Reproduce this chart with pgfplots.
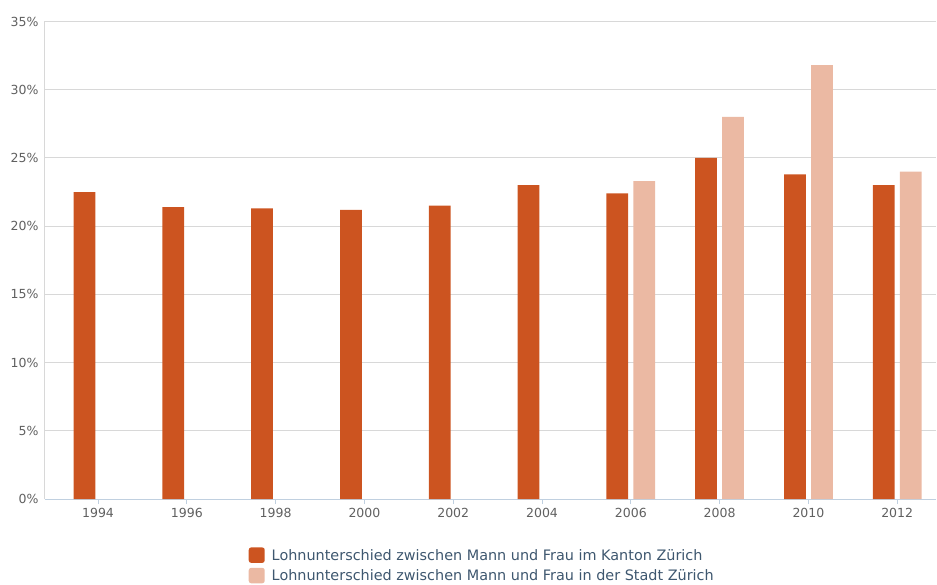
\documentclass[border=0pt]{standalone}
\usepackage{fontspec}
\setmainfont{DejaVu Sans}
\usepackage{pgfplots}
\pgfplotsset{compat=1.18}
\definecolor{dark}{HTML}{CC5420}
\definecolor{light}{HTML}{EBB9A3}
\definecolor{gridc}{HTML}{D8D8D8}
\definecolor{xaxc}{HTML}{C0D0E0}
\definecolor{ticklab}{HTML}{606060}
\definecolor{legtext}{HTML}{3E576F}
\begin{document}
\begin{tikzpicture}
\path[use as bounding box] (-45bp,-86bp) rectangle (892bp,499bp);
\begin{axis}[
  scale only axis, width=891bp, height=477.5bp,
  at={(0,0)}, anchor=south west,
  xmin=-0.597, xmax=9.437, ymin=0, ymax=35,
  ybar, bar width=0.245,
  xtick={0,...,9},
  xticklabels={1994,1996,1998,2000,2002,2004,2006,2008,2010,2012},
  ytick={0,5,...,35},
  yticklabels={0\%,5\%,10\%,15\%,20\%,25\%,30\%,35\%},
  ymajorgrids, grid style={color=gridc, line width=1bp},
  axis x line*=bottom, axis y line*=left,
  x axis line style={color=xaxc, line width=1bp, -},
  y axis line style={color=gridc, line width=1bp, -},
  xtick align=outside, major tick length=5bp,
  xtick style={color=xaxc, line width=1bp},
  ytick style={draw=none},
  tick label style={font=\fontsize{12.5bp}{14bp}\selectfont, text=ticklab},
  xticklabel style={yshift=-1bp},
  yticklabel style={xshift=-3bp},
  legend style={at={(0.4935,-0.1005)}, anchor=north, draw=none, fill=none,
    font=\fontsize{14.4bp}{17bp}\selectfont, text=legtext,
    row sep=4bp, inner sep=0pt, nodes={inner xsep=7bp}},
  legend cell align=left,
  legend image code/.code={\fill[#1,draw=none,rounded corners=2.5bp] (0bp,-7.5bp) rectangle (16bp,8bp);},
]
\addplot[fill=dark, draw=none, bar shift=-0.152] coordinates {
(0,22.5) (1,21.4) (2,21.3) (3,21.2) (4,21.5) (5,23.0) (6,22.4) (7,25.0) (8,23.8) (9,23.0)};
\addlegendentry{Lohnunterschied zwischen Mann und Frau im Kanton Zürich}
\addplot[fill=light, draw=none, bar shift=0.152] coordinates {
(6,23.3) (7,28.0) (8,31.8) (9,24.0)};
\addlegendentry{Lohnunterschied zwischen Mann und Frau in der Stadt Zürich}
\end{axis}
\end{tikzpicture}
\end{document}
